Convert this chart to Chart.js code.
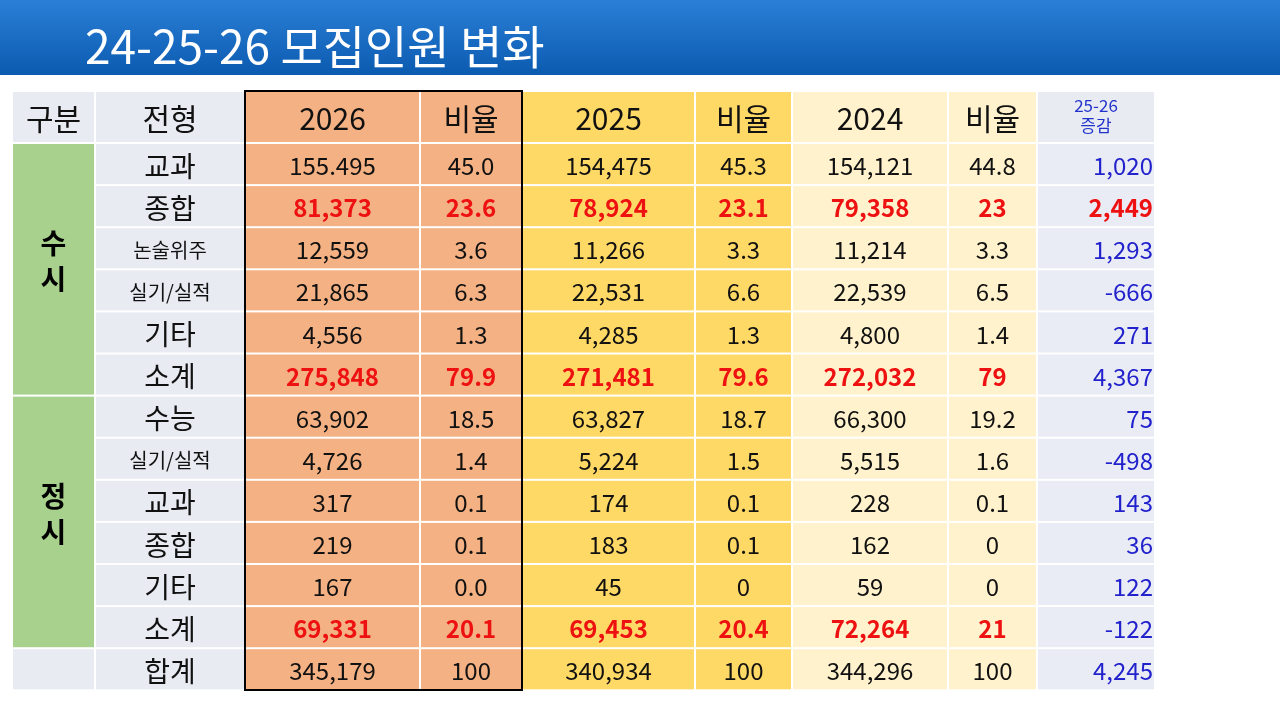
<!DOCTYPE html>
<html><head><meta charset="utf-8">
<script src="https://cdn.jsdelivr.net/npm/chart.js@4"></script>
<style>html,body{margin:0;padding:0;background:#fff}canvas{display:block}</style>
</head><body>
<canvas id="c" width="1280" height="720"></canvas>
<script>
const title = "24-25-26 모집인원 변화";
const headers = ["구분","전형","2026","비율","2025","비율","2024","비율","25-26|증감"];
const groups = [["수","시"],["정","시"]];
const types = ["교과","종합","논술위주","실기/실적","기타","소계","수능","실기/실적","교과","종합","기타","소계","합계"];
const v2026 = ["155.495","81,373","12,559","21,865","4,556","275,848","63,902","4,726","317","219","167","69,331","345,179"];
const r2026 = ["45.0","23.6","3.6","6.3","1.3","79.9","18.5","1.4","0.1","0.1","0.0","20.1","100"];
const v2025 = ["154,475","78,924","11,266","22,531","4,285","271,481","63,827","5,224","174","183","45","69,453","340,934"];
const r2025 = ["45.3","23.1","3.3","6.6","1.3","79.6","18.7","1.5","0.1","0.1","0","20.4","100"];
const v2024 = ["154,121","79,358","11,214","22,539","4,800","272,032","66,300","5,515","228","162","59","72,264","344,296"];
const r2024 = ["44.8","23","3.3","6.5","1.4","79","19.2","1.6","0.1","0","0","21","100"];
const diff = ["1,020","2,449","1,293","-666","271","4,367","75","-498","143","36","122","-122","4,245"];
const boldRows = [1,5,11];

const colEdges = [12,95,245,420,522,695,792,948,1037,1155];
const headTop = 91, rowTop = 143, rowH = 42.1;
const colBg = ["#a9d18e","#e9ebf3","#f4b183","#f4b183","#ffd966","#ffd966","#fff2cc","#fff2cc","#e9ebf5"];
const F = '"Noto Sans CJK KR","Noto Sans",sans-serif';

const tablePlugin = {
  id:'table',
  afterDraw(chart){
    const ctx = chart.ctx, X = chart.scales.x, Y = chart.scales.y;
    const px = v=>X.getPixelForValue(v), py = v=>Y.getPixelForValue(v);
    ctx.save();
    // title bar
    const g = ctx.createLinearGradient(0,py(0),0,py(75));
    g.addColorStop(0,"#2a7fd6"); g.addColorStop(1,"#0b5bb0");
    ctx.fillStyle=g; ctx.fillRect(px(0),py(0),px(1280)-px(0),py(75)-py(0));
    ctx.fillStyle="#fff"; ctx.font='46px '+F; ctx.textBaseline='alphabetic'; ctx.textAlign='left';
    ctx.fillText(title,px(85),py(64));
    const cell=(c,y0,y1,bg)=>{ctx.fillStyle=bg;ctx.fillRect(px(colEdges[c])+1,py(y0)+1,px(colEdges[c+1])-px(colEdges[c])-2,py(y1)-py(y0)-2);};
    // header
    for(let c=0;c<9;c++){
      cell(c,headTop,rowTop,c>=2&&c<=7?colBg[c]:"#e9ebf3");
      const cx=(px(colEdges[c])+px(colEdges[c+1]))/2, cy=(py(headTop)+py(rowTop))/2;
      ctx.textAlign='center';ctx.textBaseline='middle';
      if(c===8){ctx.fillStyle="#2233cc";ctx.font='17px '+F;const p=headers[8].split('|');ctx.fillText(p[0],cx,cy-11);ctx.fillText(p[1],cx,cy+9);}
      else{ctx.fillStyle="#111";ctx.font='30px '+F;ctx.fillText(headers[c],cx,cy+2);}
    }
    // group cells
    const gy=[[0,6],[6,12]];
    gy.forEach((r,i)=>{
      const y0=rowTop+r[0]*rowH,y1=rowTop+r[1]*rowH;
      cell(0,y0,y1,colBg[0]);
      ctx.fillStyle="#000";ctx.font='bold 28px '+F;ctx.textAlign='center';
      const cx=(px(12)+px(95))/2, cy=(py(y0)+py(y1))/2-34;
      ctx.fillText(groups[i][0],cx,cy+8);ctx.fillText(groups[i][1],cx,cy+44);
    });
    cell(0,rowTop+12*rowH,rowTop+13*rowH,"#e9ebf3");
    const cols=[types,v2026,r2026,v2025,r2025,v2024,r2024,diff];
    for(let r=0;r<13;r++){
      const y0=rowTop+r*rowH,y1=y0+rowH,cy=(py(y0)+py(y1))/2+2;
      for(let c=1;c<9;c++){
        cell(c,y0,y1,colBg[c]);
        const txt=cols[c-1][r];
        const bold=boldRows.includes(r)&&c>=2&&c<=7 || (r===1&&c===8);
        const small=c===1&&txt.length>2;
        ctx.font=(bold?'bold ':'')+(small?'20px ':(c===1?'28px ':'24px '))+F;
        ctx.fillStyle=bold?"#ee1111":(c===8?"#2222cc":"#111");
        ctx.textBaseline='middle';
        if(c===8){ctx.textAlign='right';ctx.fillText(txt,px(1153),cy);}
        else{ctx.textAlign='center';ctx.fillText(txt,(px(colEdges[c])+px(colEdges[c+1]))/2,cy);}
      }
    }
    ctx.strokeStyle="#000";ctx.lineWidth=2;
    ctx.strokeRect(px(245),py(91),px(522)-px(245),py(690)-py(91));
    ctx.restore();
  }
};
new Chart(document.getElementById('c'),{
  type:'scatter',
  data:{datasets:[{data:[]}]},
  options:{responsive:false,animation:false,layout:{padding:0},
    plugins:{legend:{display:false},tooltip:{enabled:false}},
    scales:{x:{type:'linear',min:0,max:1280,display:false},y:{type:'linear',min:0,max:720,reverse:true,display:false}}},
  plugins:[tablePlugin]
});
</script></body></html>
